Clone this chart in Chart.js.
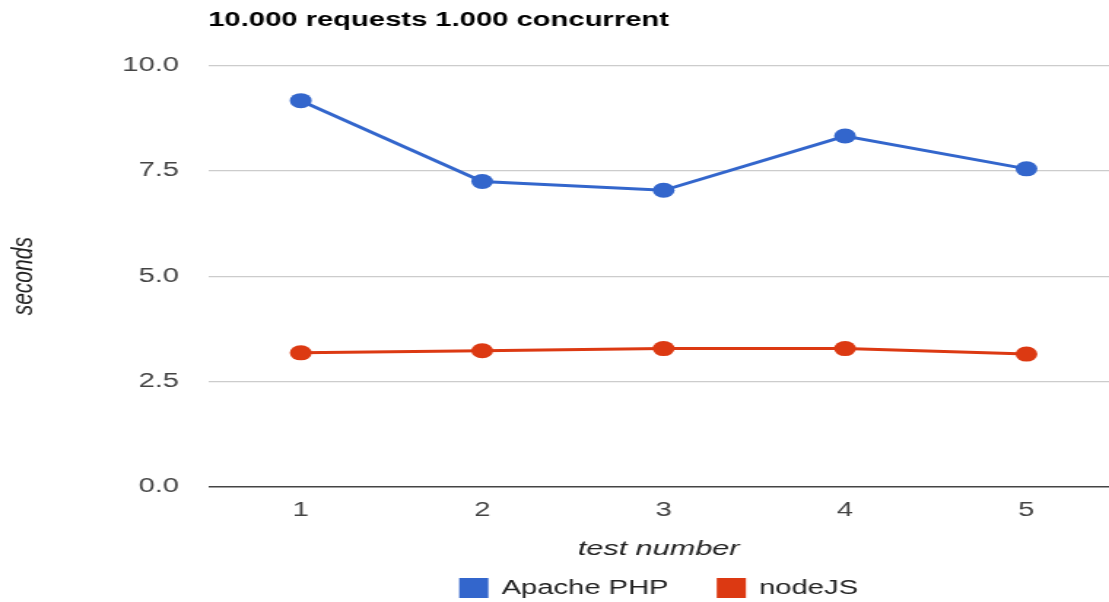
<!DOCTYPE html>
<html lang="en">
<head>
  <meta charset="UTF-8" />
  <title>10.000 requests 1.000 concurrent</title>
  <script src="https://cdn.jsdelivr.net/npm/chart.js"></script>
  <style>
    html, body { margin: 0; padding: 0; background: #fff; }
    /* the original picture is stretched sideways, so the canvas is drawn narrow and widened by css */
    #chart { display: block; width: 1109px !important; height: 602px !important; }
  </style>
</head>
<body>

<canvas id="chart" width="760" height="602" style="width:1109px;height:602px"></canvas>

<script>
const tests = [1, 2, 3, 4, 5];
const apachePhp = [9.17, 7.25, 7.04, 8.33, 7.55];
const nodeJs = [3.18, 3.23, 3.28, 3.28, 3.15];

const FONT = "'Liberation Sans', Arial, sans-serif";
Chart.defaults.font.family = FONT;

// legend under the axis title, centred on the plot area
const bottomLegend = {
  id: 'bottomLegend',
  afterDraw(chart) {
    const ctx = chart.ctx;
    const sets = chart.data.datasets;
    const box = 20, gap = 9, spacing = 33, y = 588;
    ctx.save();
    ctx.font = '20px ' + FONT;
    const widths = sets.map(d => box + gap + ctx.measureText(d.label).width);
    const total = widths.reduce((a, b) => a + b, 0) + spacing * (sets.length - 1);
    let x = (chart.chartArea.left + chart.chartArea.right) / 2 - total / 2;
    sets.forEach((d, i) => {
      ctx.fillStyle = d.borderColor;
      ctx.fillRect(x, y - box / 2, box, box);
      ctx.fillStyle = '#222';
      ctx.textBaseline = 'middle';
      ctx.textAlign = 'left';
      ctx.fillText(d.label, x + box + gap, y);
      x += widths[i] + spacing;
    });
    ctx.restore();
  }
};

const toPoints = vals => tests.map((t, i) => ({ x: t, y: vals[i] }));

new Chart(document.getElementById('chart').getContext('2d'), {
  type: 'line',
  data: {
    datasets: [
      { label: 'Apache PHP', data: toPoints(apachePhp), borderColor: '#3366cc', backgroundColor: '#3366cc' },
      { label: 'nodeJS', data: toPoints(nodeJs), borderColor: '#dc3912', backgroundColor: '#dc3912' }
    ]
  },
  options: {
    responsive: false,
    animation: false,
    layout: { padding: 0, autoPadding: false },
    elements: {
      line: { borderWidth: 3, tension: 0 },
      point: { radius: 7.5, borderWidth: 0, hoverRadius: 7.5 }
    },
    plugins: {
      legend: { display: false },
      tooltip: { enabled: false },
      title: {
        display: true,
        text: '10.000 requests 1.000 concurrent',
        align: 'start',
        fullSize: false,
        color: '#000',
        font: { size: 20, weight: 'bold' },
        padding: { top: 8.6, bottom: 33.1 }
      }
    },
    scales: {
      x: {
        type: 'linear',
        min: 0.49,
        max: 5.455,
        afterFit: s => { s.height = 115.3; s.paddingLeft = 0; s.paddingRight = 0; },
        afterBuildTicks: s => { s.ticks = tests.map(v => ({ value: v })); },
        grid: { display: false, drawTicks: false },
        border: { display: false },
        ticks: { color: '#444', font: { size: 20 }, padding: 12, callback: v => String(v) },
        title: {
          display: true,
          text: 'test number',
          color: '#222',
          font: { size: 21, style: 'italic' },
          padding: { top: 0, bottom: 40.5 }
        }
      },
      y: {
        min: 0,
        max: 10,
        afterFit: s => { s.width = 142.7; s.paddingTop = 0; s.paddingBottom = 0; },
        ticks: { stepSize: 2.5, color: '#444', font: { size: 20 }, padding: 20, callback: v => v.toFixed(1) },
        grid: {
          drawTicks: false,
          color: c => c.tick && c.tick.value === 0 ? '#444' : '#cccccc',
          lineWidth: c => c.tick && c.tick.value === 0 ? 1.6 : 1.2
        },
        border: { display: false },
        title: {
          display: true,
          text: 'seconds',
          color: '#222',
          font: { size: 21, style: 'italic' },
          padding: { top: 4, bottom: 0 }
        }
      }
    }
  },
  plugins: [bottomLegend]
});
</script>
</body>
</html>
